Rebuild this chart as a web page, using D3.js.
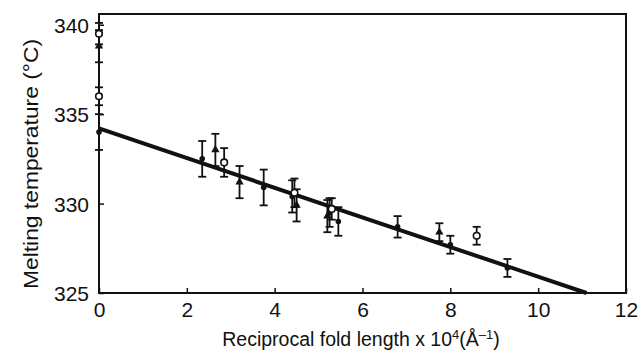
<!DOCTYPE html>
<html><head><meta charset="utf-8">
<script src="https://cdn.jsdelivr.net/npm/d3@7"></script>
<style>body{margin:0;background:#fff}svg{display:block}text{font-family:"Liberation Sans",Arial,sans-serif;fill:#111}</style>
</head><body>
<script>
// Data
const xTicks = [0, 2, 4, 6, 8, 10, 12];
const yTicks = [325, 330, 335, 340];
// filled circles
const filledX = [0, 2.35, 3.75, 4.4, 5.25, 5.45, 6.8, 8.0, 9.3];
const filledY = [334.0, 332.5, 330.9, 330.4, 329.5, 329.0, 328.7, 327.7, 326.4];
const filledE = [1.0, 1.0, 1.0, 0.9, 0.8, 0.8, 0.6, 0.5, 0.5];
// filled triangles
const triX = [0, 2.65, 3.2, 4.5, 5.2, 7.75];
const triY = [338.8, 333.0, 331.2, 329.9, 329.3, 328.4];
const triE = [0.9, 0.9, 0.9, 0.9, 0.9, 0.5];
// open circles
const openX = [0, 0, 2.85, 4.45, 5.3, 8.6];
const openY = [339.5, 336.0, 332.3, 330.6, 329.7, 328.2];
const openE = [0.6, 0.5, 0.8, 0.8, 0.6, 0.5];
// fitted line
const fitX = [0, 11.1];
const fitY = [334.2, 325.0];

const W = 642, H = 351;
const m = {left: 99, right: 16, top: 14, bottom: 58};
const svg = d3.select("body").append("svg").attr("width", W).attr("height", H);
const x = d3.scaleLinear().domain([0, 12]).range([m.left, W - m.right]);
const y = d3.scaleLinear().domain([325, 340.6]).range([H - m.bottom, m.top]);

const plotW = W - m.right - m.left;
svg.append("rect").attr("x", m.left).attr("y", m.top)
  .attr("width", plotW).attr("height", H - m.bottom - m.top)
  .attr("fill", "none").attr("stroke", "#111").attr("stroke-width", 2);

const xAxis = svg.append("g").attr("transform", `translate(0,${H - m.bottom})`)
  .call(d3.axisBottom(x).tickValues(xTicks).tickSizeInner(-5).tickSizeOuter(0).tickPadding(9));
const yAxis = svg.append("g").attr("transform", `translate(${m.left},0)`)
  .call(d3.axisLeft(y).tickValues(yTicks).tickSizeInner(-5).tickSizeOuter(0).tickPadding(10));
[xAxis, yAxis].forEach(g => {
  g.select(".domain").remove();
  g.selectAll("line").attr("stroke", "#111").attr("stroke-width", 1.5);
  g.selectAll("text").attr("font-size", 21).attr("fill", "#111")
    .style("font-family", '"Liberation Sans",Arial,sans-serif');
});
xAxis.selectAll("text").attr("dy", "0.71em");
yAxis.selectAll("text").attr("dy", "0.36em");

const xt = svg.append("text").attr("x", 361).attr("y", 346).attr("text-anchor", "middle")
  .attr("font-size", 19.5);
xt.append("tspan").text("Reciprocal fold length x 10");
xt.append("tspan").attr("dy", -7).attr("font-size", 13).text("4");
xt.append("tspan").attr("dy", 7).text("(Å");
xt.append("tspan").attr("dy", -7).attr("font-size", 13).text("\u20131");
xt.append("tspan").attr("dy", 7).text(")");

svg.append("text").attr("transform", `translate(38,164) rotate(-90)`)
  .attr("text-anchor", "middle").attr("font-size", 20.5)
  .attr("textLength", 250).attr("lengthAdjust", "spacingAndGlyphs")
  .text("Melting temperature (°C)");

const lineGen = d3.line().x(d => x(d[0])).y(d => y(d[1]));
svg.append("path").datum(d3.zip(fitX, fitY)).attr("d", lineGen)
  .attr("stroke", "#111").attr("stroke-width", 4).attr("fill", "none");

function errBars(xs, ys, es) {
  const g = svg.append("g").attr("stroke", "#111").attr("stroke-width", 1.8);
  const data = d3.zip(xs, ys, es);
  g.selectAll("line.v").data(data).join("line")
    .attr("x1", d => x(d[0])).attr("x2", d => x(d[0]))
    .attr("y1", d => y(d[1] - d[2])).attr("y2", d => y(d[1] + d[2]));
  g.selectAll("line.t").data(data).join("line")
    .attr("x1", d => x(d[0]) - 4).attr("x2", d => x(d[0]) + 4)
    .attr("y1", d => y(d[1] + d[2])).attr("y2", d => y(d[1] + d[2]));
  g.selectAll("line.b").data(data).join("line")
    .attr("x1", d => x(d[0]) - 4).attr("x2", d => x(d[0]) + 4)
    .attr("y1", d => y(d[1] - d[2])).attr("y2", d => y(d[1] - d[2]));
}
errBars(filledX, filledY, filledE);
errBars(triX, triY, triE);
errBars(openX, openY, openE);

svg.append("g").selectAll("circle").data(d3.zip(filledX, filledY)).join("circle")
  .attr("cx", d => x(d[0])).attr("cy", d => y(d[1])).attr("r", 2.8).attr("fill", "#111");
svg.append("g").selectAll("path").data(d3.zip(triX, triY)).join("path")
  .attr("d", d3.symbol().type(d3.symbolTriangle).size(30))
  .attr("transform", d => `translate(${x(d[0])},${y(d[1])})`).attr("fill", "#111");
svg.append("g").selectAll("circle").data(d3.zip(openX, openY)).join("circle")
  .attr("cx", d => x(d[0])).attr("cy", d => y(d[1])).attr("r", 3.3)
  .attr("fill", "#fff").attr("stroke", "#111").attr("stroke-width", 1.6);
</script>
</body></html>
